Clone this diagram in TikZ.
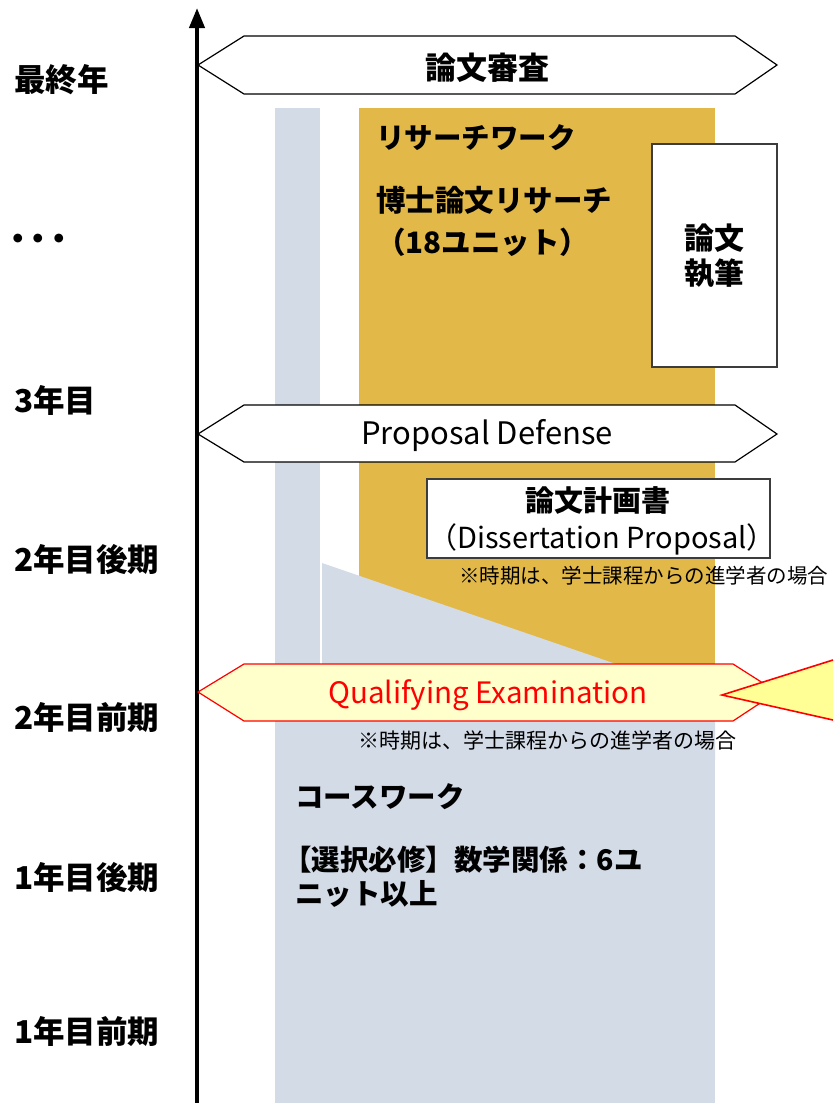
\documentclass[tikz,border=0pt]{standalone}
\usepackage{fontspec}
\setmainfont{Noto Sans CJK JP}
\usetikzlibrary{arrows.meta}
\definecolor{gold}{RGB}{226,185,72}
\definecolor{lblue}{RGB}{211,219,231}
\definecolor{qfill}{RGB}{255,255,204}
\definecolor{cfill}{RGB}{255,255,150}
\definecolor{qred}{RGB}{255,0,0}
\definecolor{boxline}{RGB}{60,60,60}
\begin{document}
\begin{tikzpicture}[x=1pt,y=-1pt,
  lbl/.style={anchor=west,inner sep=0pt,font=\fontsize{31.5}{34}\selectfont\bfseries},
  big/.style={inner sep=0pt,font=\fontsize{28.5}{34}\selectfont\bfseries},
  latin/.style={inner sep=0pt,font=\fontsize{30}{34}\selectfont},
  note/.style={anchor=west,inner sep=0pt,font=\fontsize{20.5}{24}\selectfont},
  hexa/.style={draw=black,line width=1.2pt,fill=white},
  wbox/.style={draw=boxline,line width=1.5pt,fill=white}]
\useasboundingbox (0,0) rectangle (833,1103);
% background columns
\fill[gold] (359,108) rectangle (715,700);
\fill[lblue] (275,108) rectangle (320,760);
\fill[lblue] (322,563) -- (715,698) -- (715,760) -- (322,760) -- cycle;
\fill[lblue] (275,720) rectangle (715,1103);
% axis
\coordinate (axb) at (197,1103);
\coordinate (axt) at (197,8);
\draw[line width=4pt,-{Triangle[width=15pt,length=20pt]}] (axb) -- (axt);
% left labels
\node[lbl] (l1) at (14,80) {最終年};
\node[lbl] (l2) at (2,242) {・\kern-11pt・\kern-11pt・};
\node[lbl] (l3) at (14,400) {3年目};
\node[lbl] (l4) at (14,560) {2年目後期};
\node[lbl] (l5) at (14,718) {2年目前期};
\node[lbl] (l6) at (14,878) {1年目後期};
\node[lbl] (l7) at (14,1032) {1年目前期};
% top hexagon
\draw[hexa] (198,65) -- (244,36) -- (735,36) -- (777,65) -- (735,94) -- (244,94) -- cycle;
\node[big,font=\fontsize{31}{34}\selectfont\bfseries] (shinsa) at (487,68) {論文審査};
% research texts
\node[big,anchor=west] (rw) at (376,138) {リサーチワーク};
\node[big,anchor=west,align=left,font=\fontsize{29.5}{42}\selectfont\bfseries] (hr) at (376,221) {博士論文リサーチ\\（18ユニット）};
% writing box
\node[wbox,minimum width=125pt,minimum height=223pt] (wr) at (714.5,255.5) {};
\node[big,align=center,font=\fontsize{30}{35}\selectfont\bfseries] (wrt) at (wr.center) {論文\\執筆};
% proposal defense
\draw[hexa] (198,434) -- (244,405) -- (735,405) -- (777,434) -- (735,462) -- (244,462) -- cycle;
\node[latin,font=\fontsize{31}{34}\selectfont] (pd) at (487,436) {Proposal Defense};
% dissertation proposal box
\node[wbox,minimum width=343pt,minimum height=79pt] (dp) at (598.5,518.5) {};
\node[big,font=\fontsize{29}{32}\selectfont\bfseries] (dp1) at (598,500) {論文計画書};
\node[latin,font=\fontsize{29}{32}\selectfont] (dp2) at (602,539) {（Dissertation Proposal）};
\node[note] (n1) at (459,576) {※時期は、学士課程からの進学者の場合};
% white separation line
\draw[white,line width=2pt] (321,563) -- (321,662);
% qualifying
\draw[draw=qred,line width=1.2pt,fill=qfill] (198,692) -- (244,664) -- (733,664) -- (777,692) -- (733,721) -- (244,721) -- cycle;
\node[latin,text=qred,font=\fontsize{29.5}{34}\selectfont] (qe) at (488,695) {Qualifying Examination};
\coordinate (ct) at (722,695);
\coordinate (cu) at (833,660);
\coordinate (cd) at (833,720);
\fill[cfill] (ct) -- (cu) -- (cd) -- cycle;
\draw[qred,line width=1.6pt] (cu) -- (ct) -- (cd);
\node[note,font=\fontsize{21}{24}\selectfont] (n2) at (358,740) {※時期は、学士課程からの進学者の場合};
% course work
\node[big,anchor=west] (cw) at (295,797) {コースワーク};
\node[big,anchor=west,align=left] (cw2) at (283,877) {【選択必修】数学関係：6ユ\\\hspace*{12pt}ニット以上};
\end{tikzpicture}
\end{document}
